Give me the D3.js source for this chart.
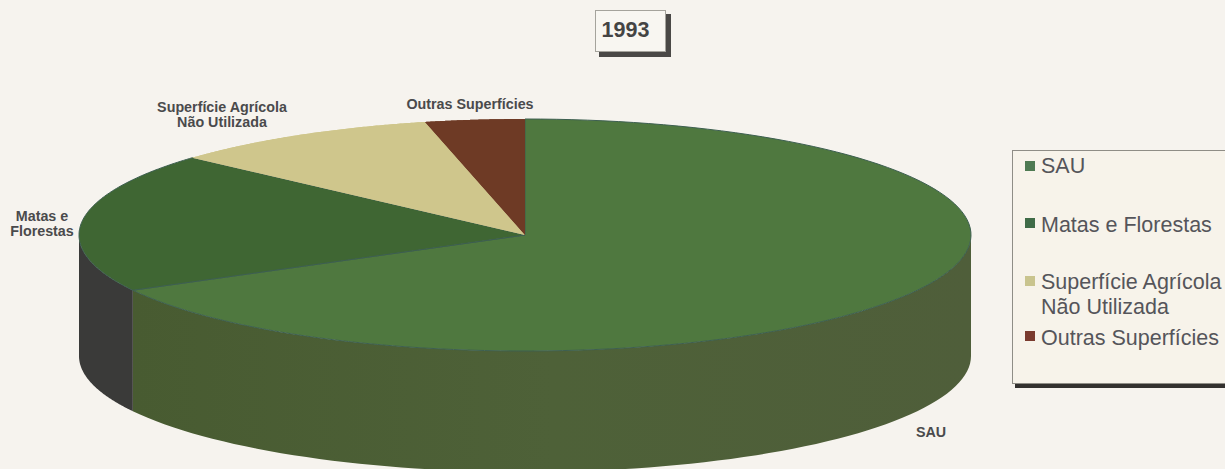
<!DOCTYPE html>
<html><head><meta charset="utf-8">
<script src="https://cdn.jsdelivr.net/npm/d3@7"></script>
<style>html,body{margin:0;padding:0;background:#f6f3ee;overflow:hidden}svg{display:block}text{font-family:"Liberation Sans",Arial,sans-serif}</style>
</head><body><svg id="c" width="1225" height="469"></svg>
<script>
const year = "1993";
const categories = ["SAU","Matas e Florestas","Superfície Agrícola Não Utilizada","Outras Superfícies"];
const values = [67.1,19.5,9.8,3.6];
const topColors = ["#4f783f","#3f6633","#cfc68c","#6e3a25"];
const wallColors = ["#4c5f36","#3a3a39","#b5ac78","#4f2a1c"];
const legendLines = [["SAU"],["Matas e Florestas"],["Superfície Agrícola","Não Utilizada"],["Outras Superfícies"]];
const legendBase = [173,232,289,345];
const swatchY = [161,218,276,331];
const swatchColors = ["#4e7a52","#3f6b47","#c9c48e","#7a3b2e"];
const calloutLines = [["SAU"],["Matas e","Florestas"],["Superfície Agrícola","Não Utilizada"],["Outras Superfícies"]];
const calloutPos = [[931,437],[42,221],[222,112],[470,109]];

const svg = d3.select("#c");
const cx=525, cy=235, rx=446, ry=116, depth=121;
const pie = d3.pie().sort(null).value(d=>d);
const arcs = pie(values);
const px = a => cx + rx*Math.sin(a), py = a => cy - ry*Math.cos(a);
const line = d3.line();

function wallPath(a0,a1){
  const lo=Math.max(a0,Math.PI/2), hi=Math.min(a1,Math.PI*1.5);
  if(hi<=lo) return null;
  const n=80, as=d3.range(n+1).map(i=>lo+(hi-lo)*i/n);
  const upper=as.map(a=>[px(a),py(a)]);
  const lower=as.slice().reverse().map(a=>[px(a),py(a)+depth]);
  return line(upper.concat(lower))+"Z";
}
function topPath(a0,a1){
  const n=120, as=d3.range(n+1).map(i=>a0+(a1-a0)*i/n);
  return line([[cx,cy]].concat(as.map(a=>[px(a),py(a)])))+"Z";
}
const defs=svg.append("defs");
const g=defs.append("linearGradient").attr("id","w0").attr("x1","0").attr("x2","1").attr("y1","0").attr("y2","0");
g.append("stop").attr("offset","0").attr("stop-color","#485b31");
g.append("stop").attr("offset","0.5").attr("stop-color","#4e6138");
g.append("stop").attr("offset","1").attr("stop-color","#4f5e3a");

svg.selectAll("path.wall").data(arcs).join("path").attr("class","wall")
  .attr("d",d=>wallPath(d.startAngle,d.endAngle))
  .attr("fill",(d,i)=>i===0?"url(#w0)":wallColors[i]);
svg.selectAll("path.top").data(arcs).join("path").attr("class","top")
  .attr("d",d=>topPath(d.startAngle,d.endAngle))
  .attr("fill",(d,i)=>topColors[i])
  .attr("stroke",(d,i)=>i<2?"#3d5f50":"none").attr("stroke-width",1).attr("stroke-linejoin","round");
svg.selectAll("path.topfill").data([arcs[2],arcs[3]]).join("path").attr("class","topfill")
  .attr("d",d=>topPath(d.startAngle,d.endAngle))
  .attr("fill",(d,i)=>topColors[i+2]);

// callouts
svg.selectAll("g.call").data(calloutLines).join("g").attr("class","call").each(function(ls,i){
  const [x,y]=calloutPos[i];
  d3.select(this).selectAll("text").data(ls).join("text")
    .attr("x",x).attr("y",(d,j)=>y+j*14.5)
    .attr("text-anchor","middle").attr("font-size",14.3).attr("font-weight","bold").attr("fill","#4a4a4c").text(d=>d);
});

// title box
svg.append("rect").attr("x",599).attr("y",14).attr("width",72).attr("height",43).attr("fill","#4a4846");
svg.append("rect").attr("x",595.5).attr("y",10.5).attr("width",70).attr("height",41).attr("fill","#f8f6f1").attr("stroke","#a5a39c");
svg.append("text").attr("x",625.5).attr("y",37).attr("text-anchor","middle").attr("font-size",21.5).attr("font-weight","bold").attr("fill","#444").text(year);

// legend
svg.append("rect").attr("x",1015).attr("y",384).attr("width",215).attr("height",4).attr("fill","#33312f");
svg.append("rect").attr("x",1012.5).attr("y",150.5).attr("width",230).attr("height",233).attr("fill","#f7f3ea").attr("stroke","#8f8d86");
const lg=svg.selectAll("g.leg").data(legendLines).join("g").attr("class","leg");
lg.append("rect").attr("x",1025).attr("y",(d,i)=>swatchY[i]).attr("width",10).attr("height",10).attr("fill",(d,i)=>swatchColors[i]);
lg.each(function(ls,i){
  d3.select(this).selectAll("text").data(ls).join("text")
    .attr("x",1041).attr("y",(d,j)=>legendBase[i]+j*25)
    .attr("font-size",21.5).attr("fill","#55555a").text(d=>d);
});
</script></body></html>
